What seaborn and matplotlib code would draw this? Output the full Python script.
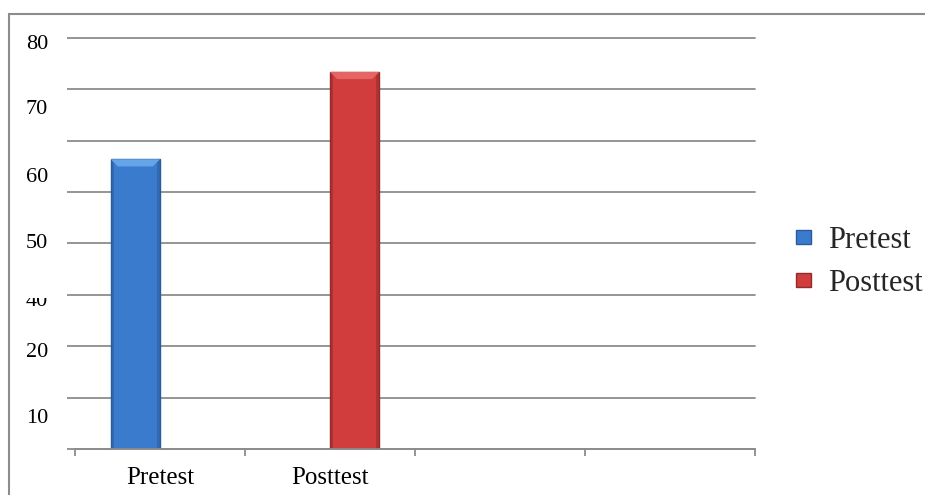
import matplotlib
matplotlib.use("Agg")
import numpy as np
import pandas as pd
import matplotlib.pyplot as plt
import seaborn as sns
from matplotlib.patches import Rectangle, Polygon, Patch
from matplotlib.transforms import blended_transform_factory, Bbox, TransformedBbox

# --- data -------------------------------------------------------------
phases = ["Pretest", "Posttest"]
series = ["Pretest", "Posttest"]
scores = [56.4, 73.4]

# category slots on the x axis (two are left empty)
slots = ["Pretest", "Posttest", "slot3", "slot4"]
slot_labels = ["Pretest", "Posttest", "", ""]

# value-axis gridlines and the hand-placed value labels (baseline heights)
y_grid = [0, 10, 20, 30, 40, 50, 60, 70, 80]
y_label_text = ["80", "70", "60", "50", "40", "20", "10"]
y_label_at = [77.9, 65.2, 52.0, 39.1, 27.8, 17.9, 5.1]

# --- style ------------------------------------------------------------
colors = {"Pretest": "#3B7BCD", "Posttest": "#D03D3C"}
edge_colors = {"Pretest": "#2A5C9C", "Posttest": "#922B2A"}
bevel_colors = {"Pretest": "#66A4E8", "Posttest": "#E46563"}
grid_color = "#8C8C8C"

df = pd.DataFrame({"phase": phases, "series": series, "score": scores})

sns.set_theme(style="white")
plt.rcParams["font.family"] = ["Liberation Serif", "DejaVu Serif"]

fig = plt.figure(figsize=(9.25, 4.95), dpi=100)
ax = fig.add_axes([75 / 925, 1 - 449 / 495, 680 / 925, 411 / 495])

sns.barplot(
    data=df, x="phase", y="score", hue="series",
    order=slots, hue_order=series, dodge=True, width=0.58,
    palette=colors, saturation=1, errorbar=None, legend=False, ax=ax,
)

ax.set_xlim(-0.5, 3.5)
ax.set_ylim(0, 80)
ax.set_xlabel("")
ax.set_ylabel("")

# bar styling: darker rim plus a light bevel on the top face
bar_series = []
for container, name in zip(ax.containers, series):
    for p in container.patches:
        bar_series.append((p, name))
for p, name in bar_series:
    p.set_edgecolor(edge_colors[name])
    p.set_linewidth(1.0)
    x0, w, h = p.get_x(), p.get_width(), p.get_height()
    dx, dy = 0.042, 1.4
    side = 0.018
    ax.add_patch(Rectangle((x0, 0), side, h, facecolor=edge_colors[name],
                           edgecolor="none", alpha=0.55, zorder=p.get_zorder() + 0.1))
    ax.add_patch(Rectangle((x0 + w - side, 0), side, h, facecolor=edge_colors[name],
                           edgecolor="none", alpha=0.55, zorder=p.get_zorder() + 0.1))
    ax.add_patch(Polygon([(x0, h), (x0 + w, h), (x0 + w - dx, h - dy), (x0 + dx, h - dy)],
                         closed=True, facecolor=bevel_colors[name], edgecolor="none",
                         zorder=p.get_zorder() + 0.2))

# spines
for s in ("top", "right", "left"):
    ax.spines[s].set_visible(False)
ax.spines["bottom"].set_color(grid_color)
ax.spines["bottom"].set_linewidth(1.3)

# value axis: gridlines with short outward ticks, no automatic labels
ax.set_yticks(y_grid)
ax.set_yticklabels([])
ax.tick_params(axis="y", which="major", left=True, length=6, width=1.3,
               color=grid_color, direction="out", pad=0)
ax.yaxis.grid(True, color=grid_color, linewidth=1.3)
for gl in ax.get_ygridlines():
    gl.set_clip_on(False)
ax.set_axisbelow(True)

# category axis: ticks on slot boundaries, labels centred on slots
ax.set_xticks([-0.5, 0.5, 1.5, 2.5, 3.5])
ax.set_xticklabels([])
ax.tick_params(axis="x", which="major", bottom=True, length=5, width=1.3,
               color=grid_color, direction="out")
ax.set_xticks(range(len(slots)), minor=True)
ax.set_xticklabels(slot_labels, minor=True, fontsize=18, color="black")
ax.tick_params(axis="x", which="minor", bottom=True, length=0, pad=13)

# value labels
ytrans = blended_transform_factory(ax.transAxes, ax.transData)
for txt, yv in zip(y_label_text, y_label_at):
    t = fig.text(-0.0397, yv, txt, transform=ytrans, ha="right", va="baseline",
                 fontsize=16, color="black")
    if txt == "40":
        clip = TransformedBbox(Bbox([[-1.0, -20.0], [0.0, 29.4]]), ytrans)
        t.set_clip_box(clip)
        t.set_clip_on(True)

# legend
handles = [Patch(facecolor=colors[n], edgecolor=edge_colors[n], linewidth=1.0) for n in series]
fig.legend(handles=handles, labels=series, loc="center left",
           bbox_to_anchor=(796 / 925, 1 - 262 / 495), frameon=False,
           fontsize=22, handlelength=0.5, handleheight=0.35,
           handletextpad=0.55, labelspacing=0.45, borderpad=0, borderaxespad=0)

# chart frame
fig.add_artist(Rectangle((9 / 925, -0.1), 1.2, (1 - 14 / 495) + 0.1,
                         transform=fig.transFigure, fill=False,
                         edgecolor="#8C8C8C", linewidth=1.5))

fig.savefig("out.png", dpi=100)
